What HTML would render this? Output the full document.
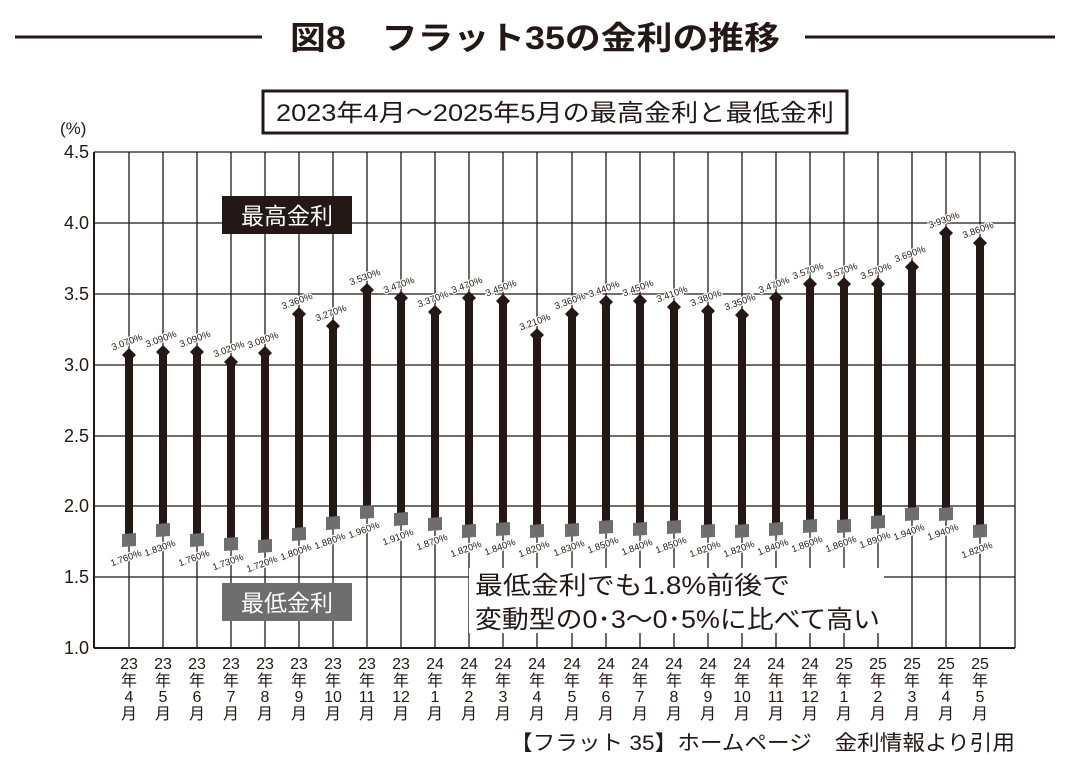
<!DOCTYPE html>
<html><head><meta charset="utf-8"><style>
html,body{margin:0;padding:0;background:#fff}
svg{display:block}
text{font-family:"Liberation Sans","Noto Sans CJK JP",sans-serif;fill:#231815}
.h text,.l text{font-size:9.5px;paint-order:stroke;stroke:#fff;stroke-width:2.5px}
</style></head><body>
<svg width="1070" height="766" viewBox="0 0 1070 766" xmlns="http://www.w3.org/2000/svg">
<line x1="15" y1="37" x2="262" y2="37" stroke="#231815" stroke-width="3"/>
<line x1="805" y1="37" x2="1055" y2="37" stroke="#231815" stroke-width="3"/>
<text x="290" y="49" font-size="32" font-weight="bold" textLength="490" lengthAdjust="spacingAndGlyphs">図8　フラット35の金利の推移</text>
<rect x="263" y="91" width="584" height="42" fill="#fff" stroke="#231815" stroke-width="3"/>
<text x="276" y="121" font-size="24" textLength="558" lengthAdjust="spacingAndGlyphs">2023年4月～2025年5月の最高金利と最低金利</text>
<text x="60" y="134" font-size="17">(%)</text>
<g stroke="#231815" stroke-width="1.3">
<line x1="94" y1="152" x2="1015" y2="152"/><line x1="94" y1="223" x2="1015" y2="223"/><line x1="94" y1="294" x2="1015" y2="294"/><line x1="94" y1="365" x2="1015" y2="365"/><line x1="94" y1="436" x2="1015" y2="436"/><line x1="94" y1="506" x2="1015" y2="506"/><line x1="94" y1="577" x2="1015" y2="577"/><line x1="94" y1="648" x2="1015" y2="648" stroke-width="2"/>
<line x1="94" y1="152" x2="94" y2="648" stroke-width="2"/><line x1="1015" y1="152" x2="1015" y2="648"/>
<line x1="129" y1="152" x2="129" y2="648"/><line x1="163" y1="152" x2="163" y2="648"/><line x1="197" y1="152" x2="197" y2="648"/><line x1="231" y1="152" x2="231" y2="648"/><line x1="265" y1="152" x2="265" y2="648"/><line x1="299" y1="152" x2="299" y2="648"/><line x1="333" y1="152" x2="333" y2="648"/><line x1="367" y1="152" x2="367" y2="648"/><line x1="401" y1="152" x2="401" y2="648"/><line x1="435" y1="152" x2="435" y2="648"/><line x1="469" y1="152" x2="469" y2="648"/><line x1="503" y1="152" x2="503" y2="648"/><line x1="537" y1="152" x2="537" y2="648"/><line x1="572" y1="152" x2="572" y2="648"/><line x1="606" y1="152" x2="606" y2="648"/><line x1="640" y1="152" x2="640" y2="648"/><line x1="674" y1="152" x2="674" y2="648"/><line x1="708" y1="152" x2="708" y2="648"/><line x1="742" y1="152" x2="742" y2="648"/><line x1="776" y1="152" x2="776" y2="648"/><line x1="810" y1="152" x2="810" y2="648"/><line x1="844" y1="152" x2="844" y2="648"/><line x1="878" y1="152" x2="878" y2="648"/><line x1="912" y1="152" x2="912" y2="648"/><line x1="946" y1="152" x2="946" y2="648"/><line x1="980" y1="152" x2="980" y2="648"/>
</g>
<g font-size="18" text-anchor="end">
<text x="89" y="158">4.5</text><text x="89" y="229">4.0</text><text x="89" y="300">3.5</text><text x="89" y="371">3.0</text><text x="89" y="442">2.5</text><text x="89" y="512">2.0</text><text x="89" y="583">1.5</text><text x="89" y="654">1.0</text>
</g>
<g fill="#231815">
<rect x="125" y="355" width="8" height="185"/><rect x="159" y="352" width="8" height="178"/><rect x="193" y="352" width="8" height="188"/><rect x="227" y="362" width="8" height="183"/><rect x="261" y="353" width="8" height="193"/><rect x="295" y="314" width="8" height="221"/><rect x="329" y="326" width="8" height="197"/><rect x="363" y="290" width="8" height="222"/><rect x="397" y="298" width="8" height="221"/><rect x="431" y="312" width="8" height="213"/><rect x="465" y="298" width="8" height="234"/><rect x="499" y="301" width="8" height="228"/><rect x="533" y="335" width="8" height="197"/><rect x="568" y="314" width="8" height="216"/><rect x="602" y="302" width="8" height="225"/><rect x="636" y="301" width="8" height="228"/><rect x="670" y="307" width="8" height="221"/><rect x="704" y="311" width="8" height="221"/><rect x="738" y="315" width="8" height="217"/><rect x="772" y="298" width="8" height="231"/><rect x="806" y="284" width="8" height="242"/><rect x="840" y="284" width="8" height="242"/><rect x="874" y="284" width="8" height="238"/><rect x="908" y="267" width="8" height="248"/><rect x="942" y="233" width="8" height="282"/><rect x="976" y="243" width="8" height="289"/>
</g>
<g fill="#231815">
<path d="M129 348l7 7-7 7-7-7z"/><path d="M163 345l7 7-7 7-7-7z"/><path d="M197 345l7 7-7 7-7-7z"/><path d="M231 355l7 7-7 7-7-7z"/><path d="M265 346l7 7-7 7-7-7z"/><path d="M299 307l7 7-7 7-7-7z"/><path d="M333 319l7 7-7 7-7-7z"/><path d="M367 283l7 7-7 7-7-7z"/><path d="M401 291l7 7-7 7-7-7z"/><path d="M435 305l7 7-7 7-7-7z"/><path d="M469 291l7 7-7 7-7-7z"/><path d="M503 294l7 7-7 7-7-7z"/><path d="M537 328l7 7-7 7-7-7z"/><path d="M572 307l7 7-7 7-7-7z"/><path d="M606 295l7 7-7 7-7-7z"/><path d="M640 294l7 7-7 7-7-7z"/><path d="M674 300l7 7-7 7-7-7z"/><path d="M708 304l7 7-7 7-7-7z"/><path d="M742 308l7 7-7 7-7-7z"/><path d="M776 291l7 7-7 7-7-7z"/><path d="M810 277l7 7-7 7-7-7z"/><path d="M844 277l7 7-7 7-7-7z"/><path d="M878 277l7 7-7 7-7-7z"/><path d="M912 260l7 7-7 7-7-7z"/><path d="M946 226l7 7-7 7-7-7z"/><path d="M980 236l7 7-7 7-7-7z"/>
</g>
<g fill="#6e6e6e">
<path d="M122 534l14-1v13l-14 1z"/><path d="M156 524l14-1v13l-14 1z"/><path d="M190 534l14-1v13l-14 1z"/><path d="M224 538l14-1v13l-14 1z"/><path d="M258 540l14-1v13l-14 1z"/><path d="M292 528l14-1v13l-14 1z"/><path d="M326 517l14-1v13l-14 1z"/><path d="M360 506l14-1v13l-14 1z"/><path d="M394 513l14-1v13l-14 1z"/><path d="M428 518l14-1v13l-14 1z"/><path d="M462 525l14-1v13l-14 1z"/><path d="M496 523l14-1v13l-14 1z"/><path d="M530 525l14-1v13l-14 1z"/><path d="M565 524l14-1v13l-14 1z"/><path d="M599 521l14-1v13l-14 1z"/><path d="M633 523l14-1v13l-14 1z"/><path d="M667 521l14-1v13l-14 1z"/><path d="M701 525l14-1v13l-14 1z"/><path d="M735 525l14-1v13l-14 1z"/><path d="M769 523l14-1v13l-14 1z"/><path d="M803 520l14-1v13l-14 1z"/><path d="M837 520l14-1v13l-14 1z"/><path d="M871 516l14-1v13l-14 1z"/><path d="M905 508l14-1v13l-14 1z"/><path d="M939 508l14-1v13l-14 1z"/><path d="M973 525l14-1v13l-14 1z"/>
</g>
<g class="h" text-anchor="middle">
<text transform="translate(128,345) rotate(-20)">3.070%</text><text transform="translate(162,342) rotate(-20)">3.090%</text><text transform="translate(196,342) rotate(-20)">3.090%</text><text transform="translate(230,352) rotate(-20)">3.020%</text><text transform="translate(264,343) rotate(-20)">3.080%</text><text transform="translate(298,304) rotate(-20)">3.360%</text><text transform="translate(332,316) rotate(-20)">3.270%</text><text transform="translate(366,280) rotate(-20)">3.530%</text><text transform="translate(400,288) rotate(-20)">3.470%</text><text transform="translate(434,302) rotate(-20)">3.370%</text><text transform="translate(468,288) rotate(-20)">3.470%</text><text transform="translate(502,291) rotate(-20)">3.450%</text><text transform="translate(536,325) rotate(-20)">3.210%</text><text transform="translate(571,304) rotate(-20)">3.360%</text><text transform="translate(605,292) rotate(-20)">3.440%</text><text transform="translate(639,291) rotate(-20)">3.450%</text><text transform="translate(673,297) rotate(-20)">3.410%</text><text transform="translate(707,301) rotate(-20)">3.380%</text><text transform="translate(741,305) rotate(-20)">3.350%</text><text transform="translate(775,288) rotate(-20)">3.470%</text><text transform="translate(809,274) rotate(-20)">3.570%</text><text transform="translate(843,274) rotate(-20)">3.570%</text><text transform="translate(877,274) rotate(-20)">3.570%</text><text transform="translate(911,257) rotate(-20)">3.690%</text><text transform="translate(945,223) rotate(-20)">3.930%</text><text transform="translate(979,233) rotate(-20)">3.860%</text>
</g>
<g class="l" text-anchor="middle">
<text transform="translate(127,561) rotate(-20)">1.760%</text><text transform="translate(161,551) rotate(-20)">1.830%</text><text transform="translate(195,561) rotate(-20)">1.760%</text><text transform="translate(229,565) rotate(-20)">1.730%</text><text transform="translate(263,567) rotate(-20)">1.720%</text><text transform="translate(297,555) rotate(-20)">1.800%</text><text transform="translate(331,544) rotate(-20)">1.880%</text><text transform="translate(365,533) rotate(-20)">1.960%</text><text transform="translate(399,540) rotate(-20)">1.910%</text><text transform="translate(433,545) rotate(-20)">1.870%</text><text transform="translate(467,552) rotate(-20)">1.820%</text><text transform="translate(501,550) rotate(-20)">1.840%</text><text transform="translate(535,552) rotate(-20)">1.820%</text><text transform="translate(570,551) rotate(-20)">1.830%</text><text transform="translate(604,548) rotate(-20)">1.850%</text><text transform="translate(638,550) rotate(-20)">1.840%</text><text transform="translate(672,548) rotate(-20)">1.850%</text><text transform="translate(706,552) rotate(-20)">1.820%</text><text transform="translate(740,552) rotate(-20)">1.820%</text><text transform="translate(774,550) rotate(-20)">1.840%</text><text transform="translate(808,547) rotate(-20)">1.860%</text><text transform="translate(842,547) rotate(-20)">1.860%</text><text transform="translate(876,543) rotate(-20)">1.890%</text><text transform="translate(910,535) rotate(-20)">1.940%</text><text transform="translate(944,535) rotate(-20)">1.940%</text><text transform="translate(978,553) rotate(-20)">1.820%</text>
</g>
<rect x="222" y="196" width="130" height="38" fill="#231815"/>
<text x="287" y="224" text-anchor="middle" font-size="23" style="fill:#fff">最高金利</text>
<rect x="222" y="583" width="130" height="38" fill="#6e6e6e"/>
<text x="287" y="611" text-anchor="middle" font-size="23" style="fill:#fff">最低金利</text>
<rect x="469" y="568" width="415" height="65" fill="#fff"/>
<text x="475" y="594" font-size="25" textLength="315" lengthAdjust="spacingAndGlyphs">最低金利でも1.8%前後で</text>
<text x="475" y="628" font-size="25" textLength="405" lengthAdjust="spacingAndGlyphs">変動型の0･3～0･5%に比べて高い</text>
<g font-size="16" text-anchor="middle">
<text x="129" y="669">23</text><text x="163" y="669">23</text><text x="197" y="669">23</text><text x="231" y="669">23</text><text x="265" y="669">23</text><text x="299" y="669">23</text><text x="333" y="669">23</text><text x="367" y="669">23</text><text x="401" y="669">23</text><text x="435" y="669">24</text><text x="469" y="669">24</text><text x="503" y="669">24</text><text x="537" y="669">24</text><text x="572" y="669">24</text><text x="606" y="669">24</text><text x="640" y="669">24</text><text x="674" y="669">24</text><text x="708" y="669">24</text><text x="742" y="669">24</text><text x="776" y="669">24</text><text x="810" y="669">24</text><text x="844" y="669">25</text><text x="878" y="669">25</text><text x="912" y="669">25</text><text x="946" y="669">25</text><text x="980" y="669">25</text>
<text x="129" y="686">年</text><text x="163" y="686">年</text><text x="197" y="686">年</text><text x="231" y="686">年</text><text x="265" y="686">年</text><text x="299" y="686">年</text><text x="333" y="686">年</text><text x="367" y="686">年</text><text x="401" y="686">年</text><text x="435" y="686">年</text><text x="469" y="686">年</text><text x="503" y="686">年</text><text x="537" y="686">年</text><text x="572" y="686">年</text><text x="606" y="686">年</text><text x="640" y="686">年</text><text x="674" y="686">年</text><text x="708" y="686">年</text><text x="742" y="686">年</text><text x="776" y="686">年</text><text x="810" y="686">年</text><text x="844" y="686">年</text><text x="878" y="686">年</text><text x="912" y="686">年</text><text x="946" y="686">年</text><text x="980" y="686">年</text>
<text x="129" y="702">4</text><text x="163" y="702">5</text><text x="197" y="702">6</text><text x="231" y="702">7</text><text x="265" y="702">8</text><text x="299" y="702">9</text><text x="333" y="702">10</text><text x="367" y="702">11</text><text x="401" y="702">12</text><text x="435" y="702">1</text><text x="469" y="702">2</text><text x="503" y="702">3</text><text x="537" y="702">4</text><text x="572" y="702">5</text><text x="606" y="702">6</text><text x="640" y="702">7</text><text x="674" y="702">8</text><text x="708" y="702">9</text><text x="742" y="702">10</text><text x="776" y="702">11</text><text x="810" y="702">12</text><text x="844" y="702">1</text><text x="878" y="702">2</text><text x="912" y="702">3</text><text x="946" y="702">4</text><text x="980" y="702">5</text>
<text x="129" y="719">月</text><text x="163" y="719">月</text><text x="197" y="719">月</text><text x="231" y="719">月</text><text x="265" y="719">月</text><text x="299" y="719">月</text><text x="333" y="719">月</text><text x="367" y="719">月</text><text x="401" y="719">月</text><text x="435" y="719">月</text><text x="469" y="719">月</text><text x="503" y="719">月</text><text x="537" y="719">月</text><text x="572" y="719">月</text><text x="606" y="719">月</text><text x="640" y="719">月</text><text x="674" y="719">月</text><text x="708" y="719">月</text><text x="742" y="719">月</text><text x="776" y="719">月</text><text x="810" y="719">月</text><text x="844" y="719">月</text><text x="878" y="719">月</text><text x="912" y="719">月</text><text x="946" y="719">月</text><text x="980" y="719">月</text>
</g>
<text x="510" y="750" font-size="21" textLength="505" lengthAdjust="spacingAndGlyphs">【フラット 35】ホームページ　金利情報より引用</text>
</svg>
</body></html>
